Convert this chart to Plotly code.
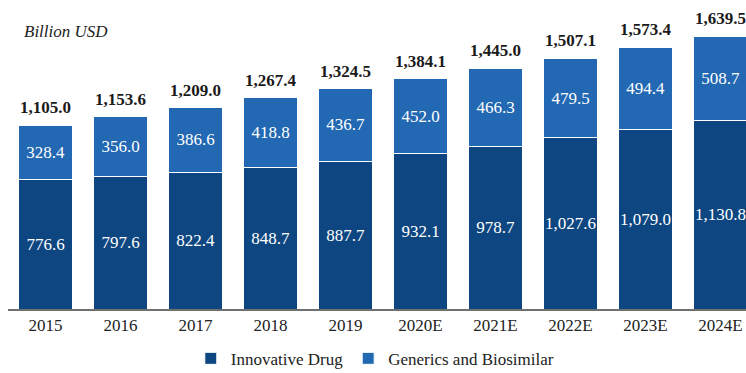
import plotly.graph_objects as go

years = ["2015", "2016", "2017", "2018", "2019", "2020E", "2021E", "2022E", "2023E", "2024E"]
innovative = [776.6, 797.6, 822.4, 848.7, 887.7, 932.1, 978.7, 1027.6, 1079.0, 1130.8]
generics = [328.4, 356.0, 386.6, 418.8, 436.7, 452.0, 466.3, 479.5, 494.4, 508.7]
totals = [1105.0, 1153.6, 1209.0, 1267.4, 1324.5, 1384.1, 1445.0, 1507.1, 1573.4, 1639.5]

DARK = "#0D4680"
LIGHT = "#2268B2"
FONT = "Liberation Serif"

def fmt(v):
    return f"{v:,.1f}"

fig = go.Figure()
fig.add_trace(go.Bar(
    x=years, y=innovative, name="Innovative Drug",
    marker=dict(color=DARK, line=dict(color="white", width=1)),
    text=[fmt(v) for v in innovative], textposition="inside",
    insidetextanchor="middle", textangle=0, constraintext="none",
    textfont=dict(family=FONT, size=17, color="white"),
    hoverinfo="skip",
))
fig.add_trace(go.Bar(
    x=years, y=generics, name="Generics and Biosimilar",
    marker=dict(color=LIGHT, line=dict(color="white", width=1)),
    text=[fmt(v) for v in generics], textposition="inside",
    insidetextanchor="middle", textangle=0, constraintext="none",
    textfont=dict(family=FONT, size=17, color="white"),
    hoverinfo="skip",
))

for i, t in enumerate(totals):
    fig.add_annotation(
        x=i, y=t, text=f"<b>{fmt(t)}</b>", showarrow=False,
        yanchor="bottom", yshift=6,
        font=dict(family=FONT, size=17, color="#1a1a1a"),
    )

fig.add_annotation(
    xref="paper", yref="paper", x=0.019, y=0.96, xanchor="left", yanchor="middle",
    text="<i>Billion USD</i>", showarrow=False,
    font=dict(family=FONT, size=17, color="#222222"),
)

fig.update_layout(
    width=746, height=373,
    margin=dict(l=8, r=0, t=20, b=64, autoexpand=False),
    barmode="stack", bargap=0.293,
    plot_bgcolor="white", paper_bgcolor="white",
    font=dict(family=FONT, size=17, color="#222222"),
    showlegend=True,
    legend=dict(orientation="h", x=0.497, xanchor="center", y=-0.11, yanchor="top",
                traceorder="normal", font=dict(family=FONT, size=17, color="#222222"),
                itemwidth=30),
    xaxis=dict(range=[-0.5, 9.34], showline=True, linecolor="#707070", linewidth=2,
               ticks="", showgrid=False, tickfont=dict(family=FONT, size=17, color="#222222")),
    yaxis=dict(range=[0, 1736], visible=False, showgrid=False),
)

fig.write_html("out.html")
